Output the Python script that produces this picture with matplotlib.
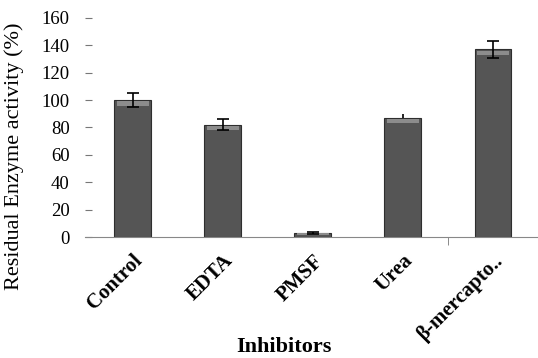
import numpy as np
import matplotlib
matplotlib.use("Agg")
import matplotlib.pyplot as plt

inhibitors = ["Control", "EDTA", "PMSF", "Urea", "\u03b2-mercapto.."]
activity = [100, 82, 3, 87, 137]
err_low = [5, 4, 0.5, 0, 6]
err_high = [5, 4, 0.5, 3, 6]

plt.rcParams['font.family'] = ['Liberation Serif', 'DejaVu Serif']

fig = plt.figure(figsize=(5.38, 3.58), dpi=100)
ax = fig.add_axes([85/538, 1-237/358, 1-85/538, (237-18)/358])

x = np.arange(len(inhibitors))
ax.bar(x, activity, width=0.41, color='#555555', edgecolor='#2e2e2e', linewidth=0.8, zorder=2)
# light strip near the top of each bar
for xi, v in zip(x, activity):
    h = min(3, v*0.3)
    ax.bar(xi, h, bottom=v - h - min(1, v*0.1), width=0.36,
           color='#8c8c8c', linewidth=0, zorder=3)
caps = [4, 4, 4, 0, 4]
for xi, v, lo, hi, c in zip(x, activity, err_low, err_high, caps):
    ax.errorbar(xi, v, yerr=[[lo], [hi]], fmt='none', ecolor='black', elinewidth=1.2,
                capsize=c, capthick=1.2, zorder=4)

ax.set_xlim(-0.53, 4.33)
ax.set_ylim(0, 160)
ax.set_yticks(np.arange(0, 161, 20))
ax.set_yticklabels([str(v) for v in range(0, 161, 20)], fontsize=13.5)
ax.tick_params(axis='y', direction='in', length=5, pad=11, color='#777777')

ax.set_xticks(x)
ax.set_xticklabels(inhibitors, rotation=45, ha='right', rotation_mode='anchor',
                   fontsize=15, fontweight='bold')
ax.tick_params(axis='x', length=0, pad=10)
ax.set_xticks([3.5, 4.5], minor=True)
ax.tick_params(axis='x', which='minor', length=6, direction='out', color='#777777')

for s in ['top', 'right', 'left']:
    ax.spines[s].set_visible(False)
ax.spines['bottom'].set_color('#888888')

ax.set_ylabel("Residual Enzyme activity (%)", fontsize=16, labelpad=2)
ax.yaxis.set_label_coords(-0.135, 0.37)
ax.set_xlabel("Inhibitors", fontsize=16, fontweight='bold')
ax.xaxis.set_label_coords(0.44, -0.455)
ax.xaxis.label.set_va('top')

fig.savefig("out.png", dpi=100)
